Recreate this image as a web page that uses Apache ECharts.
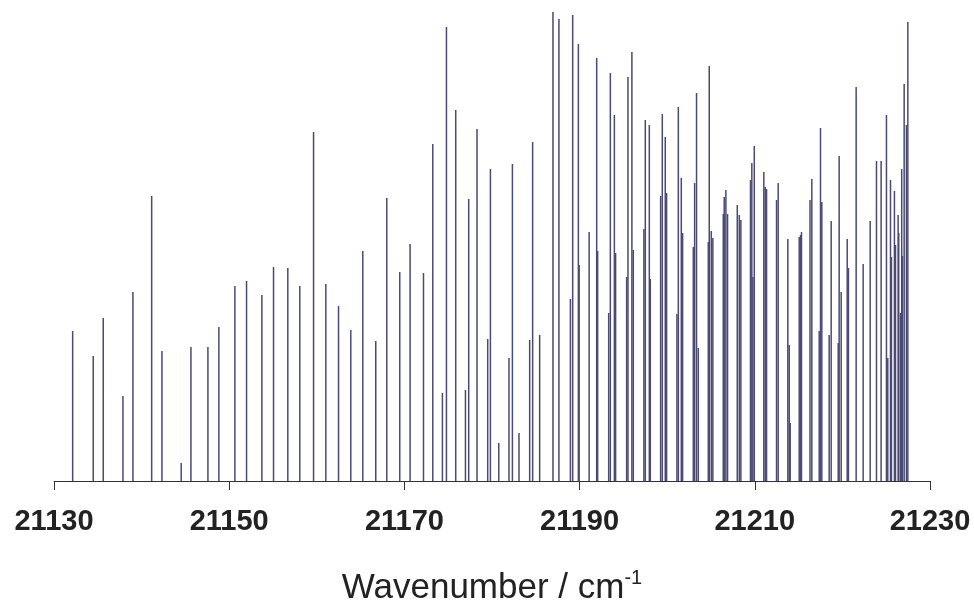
<!DOCTYPE html>
<html>
<head>
<meta charset="utf-8">
<script src="https://cdn.jsdelivr.net/npm/echarts@6/dist/echarts.min.js"></script>
<style>
  html, body { margin: 0; padding: 0; background: #fff; }
  #spectrum { width: 974px; height: 604px; }
</style>
</head>
<body>
<div id="spectrum"></div>
<script>
// line positions (cm-1) and relative intensities
const wavenumbers = [
  21132.13, 21134.48, 21135.62, 21137.87, 21139.01, 21141.15, 21142.32, 21144.52, 21145.63, 21147.57,
  21148.82, 21150.65, 21151.98, 21153.73, 21155.06, 21156.69, 21158.06, 21159.63, 21161.03, 21162.48,
  21163.88, 21165.25, 21166.73, 21167.99, 21169.47, 21170.65, 21172.18, 21173.24, 21174.34, 21174.80,
  21175.86, 21176.97, 21177.34, 21178.29, 21179.51, 21179.82, 21180.77, 21181.94, 21182.33, 21183.08,
  21184.30, 21184.64, 21185.44, 21186.96, 21187.64, 21188.95, 21189.21, 21189.86, 21189.95, 21191.09,
  21191.95, 21192.06, 21193.32, 21193.51, 21193.97, 21194.11, 21195.37, 21195.52, 21195.97, 21196.13,
  21197.34, 21197.50, 21197.96, 21198.07, 21199.25, 21199.44, 21199.78, 21199.93, 21201.11, 21201.27,
  21201.61, 21201.76, 21202.98, 21203.13, 21203.35, 21203.55, 21204.69, 21204.80, 21205.03, 21205.21,
  21206.40, 21206.51, 21206.70, 21206.89, 21208.00, 21208.23, 21208.41, 21209.51, 21209.66, 21209.78,
  21209.94, 21211.03, 21211.19, 21211.34, 21212.48, 21212.67, 21213.77, 21213.93, 21214.04, 21215.07,
  21215.22, 21215.33, 21216.30, 21216.51, 21217.35, 21217.50, 21217.65, 21218.49, 21218.72, 21219.52,
  21219.63, 21219.86, 21220.55, 21220.69, 21221.57, 21222.37, 21223.17, 21223.89, 21224.42, 21225.03,
  21225.18, 21225.49, 21225.60, 21225.94, 21226.06, 21226.36, 21226.43, 21226.63, 21226.77, 21226.85,
  21227.05, 21227.31, 21227.47
];
const intensities = [
  150, 125, 163, 85, 189, 285, 130, 18, 134, 134,
  154, 195, 200, 186, 214, 213, 195, 349, 197, 175,
  151, 230, 140, 283, 209, 237, 208, 337, 88, 454,
  371, 91, 282, 352, 142, 312, 38, 123, 317, 48,
  141, 339, 146, 469, 462, 182, 466, 437, 216, 249,
  423, 230, 168, 408, 366, 228, 204, 404, 429, 231,
  252, 361, 356, 202, 285, 367, 344, 288, 167, 374,
  303, 248, 234, 298, 388, 133, 239, 415, 250, 243,
  267, 284, 291, 267, 276, 266, 261, 301, 318, 204,
  335, 309, 294, 292, 281, 298, 242, 136, 58, 244,
  246, 249, 281, 302, 150, 353, 279, 146, 260, 138,
  325, 189, 242, 213, 394, 217, 260, 320, 320, 366,
  123, 301, 224, 290, 236, 266, 248, 168, 312, 225,
  397, 356, 459
];
const xTicks = [21130, 21150, 21170, 21190, 21210, 21230];

const lines = wavenumbers.map((w, i) => [w, intensities[i]]);

const chart = echarts.init(document.getElementById('spectrum'));

chart.setOption({
  animation: false,
  grid: { left: 54, right: 44, top: 10, bottom: 123, outerBoundsMode: 'none' },
  xAxis: {
    type: 'value',
    min: xTicks[0],
    max: xTicks[xTicks.length - 1],
    interval: 20,
    splitLine: { show: false },
    axisLine: { lineStyle: { color: '#333', width: 1 } },
    axisTick: { length: 9, lineStyle: { color: '#333', width: 1 } },
    axisLabel: {
      margin: 26,
      fontFamily: 'Liberation Sans',
      fontWeight: 'bold',
      fontSize: 29,
      color: '#222',
      formatter: (v) => String(v)
    },
    name: '{a|Wavenumber / cm}{b|-1}',
    nameLocation: 'middle',
    nameGap: 87,
    nameTextStyle: {
      rich: {
        a: { fontFamily: 'Liberation Sans', fontSize: 35, color: '#222', lineHeight: 40 },
        b: { fontFamily: 'Liberation Sans', fontSize: 20, color: '#222', verticalAlign: 'top', lineHeight: 40, padding: [0, 0, 16, 0] }
      }
    }
  },
  yAxis: {
    type: 'value',
    min: 0,
    max: 471,
    show: false
  },
  series: [{
    type: 'custom',
    data: lines,
    renderItem: (params, api) => {
      const base = api.coord([api.value(0), 0]);
      const top = api.coord([api.value(0), api.value(1)]);
      return {
        type: 'line',
        shape: { x1: base[0], y1: base[1], x2: top[0], y2: top[1] },
        style: { stroke: '#4b4a74', lineWidth: 1.5 }
      };
    }
  }]
});
</script>
</body>
</html>
